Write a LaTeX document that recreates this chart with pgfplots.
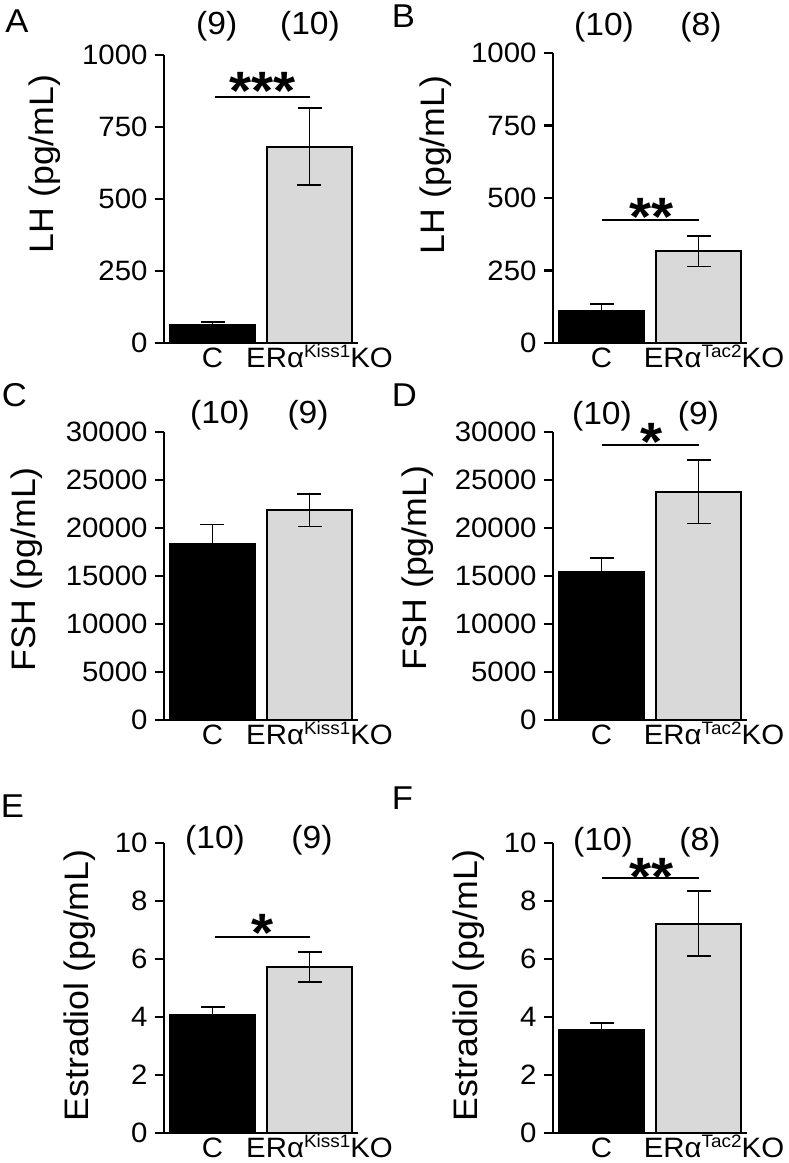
\documentclass[border=0pt]{standalone}
\usepackage{fontspec}
\setmainfont[FakeStretch=1.05]{Liberation Sans}
\usepackage{pgfplots}
\pgfplotsset{compat=1.18}
\definecolor{kogray}{RGB}{217,217,217}
\newcommand{\supx}[1]{\raisebox{5pt}{\fontsize{9}{9}\selectfont #1}}
\pgfplotsset{
 panel/.style={
  scale only axis, width=97pt, anchor=south west,
  axis lines*=left, xmin=0.5, xmax=2.5, ymin=0, enlargelimits=false, clip=false,
  xtick={1,2}, major x tick style={draw=none},
  tick align=outside, major tick length=4.7pt,
  axis line style={line width=1.15pt},
  major y tick style={line width=1.15pt, black},
  minor tick num=0,
  tick label style={font=\fontsize{14}{14}\selectfont},
  /pgf/number format/assume math mode=true,
  /pgf/number format/1000 sep={},
  /pgf/number format/fixed,
  scaled y ticks=false,
  xticklabel style={text height=11.5pt, inner sep=0pt, anchor=north, yshift=4.2pt},
  ylabel style={font=\fontsize{17}{17}\selectfont, anchor=center},
 },
 Cbar/.style={ybar, bar width=0.87, bar shift=0pt, fill=black, draw=black, line width=1pt,
   error bars/.cd, y dir=both, y explicit, error bar style={line width=0.85pt, black},
   error mark options={rotate=90, line width=0.85pt, mark size=6pt, black}},
 KObar/.style={ybar, bar width=0.87, bar shift=0pt, fill=kogray, draw=black, line width=1pt,
   error bars/.cd, y dir=both, y explicit, error bar style={line width=0.85pt, black},
   error mark options={rotate=90, line width=0.85pt, mark size=6pt, black}},
}
\tikzset{
 nlab/.style={font=\fontsize{16}{16}\selectfont, anchor=center, inner sep=0pt},
 sigstar/.style={font=\fontsize{27}{27}\selectfont\bfseries, anchor=base, inner sep=0pt, yshift=2.5pt},
 plet/.style={anchor=base west, inner sep=0pt, font=\fontsize{16.5}{16.5}\selectfont},
}
\begin{document}
\begin{tikzpicture}
\useasboundingbox (0,0) rectangle (394pt,581.5pt);
% ---------- A ----------
\begin{axis}[panel, at={(82pt,410pt)}, height=144pt, ymax=1000, ytick={0,250,500,750,1000},
  xticklabels={C,{\hspace*{10pt}ERα\supx{Kiss1}KO}},
  ylabel={LH (pg/mL)}, ylabel style={at={(axis description cs:-0.613,0.622)}}]
\addplot[Cbar] coordinates {(1,62) +- (0,11)};
\addplot[KObar] coordinates {(2,682) +- (0,133)};
\draw[line width=1pt] (axis cs:1.026,855) -- (axis cs:2.005,855);
\node[sigstar] at (axis cs:1.52,792) {***};
\node[nlab] at (axis cs:1.043,1101) {(9)};
\node[nlab] at (axis cs:2.005,1101) {(10)};
\end{axis}
% ---------- B ----------
\begin{axis}[panel, at={(276.5pt,410pt)}, height=145pt, ymax=1000, ytick={0,250,500,750,1000},
  xticklabels={C,{\hspace*{15.5pt}ERα\supx{Tac2}KO}},
  ylabel={LH (pg/mL)}, ylabel style={at={(axis description cs:-0.603,0.614)}}]
\addplot[Cbar] coordinates {(1,109) +- (0,25)};
\addplot[KObar] coordinates {(2,316) +- (0,52)};
\draw[line width=1pt] (axis cs:1.008,424) -- (axis cs:2.0,424);
\node[sigstar] at (axis cs:1.52,355) {**};
\node[nlab] at (axis cs:1.026,1088) {(10)};
\node[nlab] at (axis cs:2.026,1088) {(8)};
\end{axis}
% ---------- C ----------
\begin{axis}[panel, at={(82pt,221.5pt)}, height=144pt, ymax=30000, ytick={0,5000,10000,15000,20000,25000,30000},
  xticklabels={C,{\hspace*{10pt}ERα\supx{Kiss1}KO}},
  ylabel={FSH (pg/mL)}, ylabel style={at={(axis description cs:-0.706,0.523)}}]
\addplot[Cbar] coordinates {(1,18300) +- (0,2050)};
\addplot[KObar] coordinates {(2,21850) +- (0,1700)};
\node[nlab] at (axis cs:1.077,31770) {(10)};
\node[nlab] at (axis cs:1.985,31770) {(9)};
\end{axis}
% ---------- D ----------
\begin{axis}[panel, at={(276.5pt,221.5pt)}, height=144pt, ymax=30000, ytick={0,5000,10000,15000,20000,25000,30000},
  xticklabels={C,{\hspace*{15.5pt}ERα\supx{Tac2}KO}},
  ylabel={FSH (pg/mL)}, ylabel style={at={(axis description cs:-0.696,0.528)}}]
\addplot[Cbar] coordinates {(1,15430) +- (0,1460)};
\addplot[KObar] coordinates {(2,23760) +- (0,3300)};
\draw[line width=1pt] (axis cs:1.0,28646) -- (axis cs:2.0,28646);
\node[sigstar] at (axis cs:1.52,26562) {*};
\node[nlab] at (axis cs:1.005,31667) {(10)};
\node[nlab] at (axis cs:2.0,31667) {(9)};
\end{axis}
% ---------- E ----------
\begin{axis}[panel, at={(82pt,15pt)}, height=145pt, ymax=10, ytick={0,2,4,6,8,10},
  xticklabels={C,{\hspace*{10pt}ERα\supx{Kiss1}KO}},
  ylabel={Estradiol (pg/mL)}, ylabel style={at={(axis description cs:-0.433,0.509)}}]
\addplot[Cbar] coordinates {(1,4.08) +- (0,0.26)};
\addplot[KObar] coordinates {(2,5.72) +- (0,0.52)};
\draw[line width=1pt] (axis cs:1.026,6.75) -- (axis cs:2.005,6.75);
\node[sigstar] at (axis cs:1.52,6.10) {*};
\node[nlab] at (axis cs:1.026,10.10) {(10)};
\node[nlab] at (axis cs:2.026,10.10) {(9)};
\end{axis}
% ---------- F ----------
\begin{axis}[panel, at={(276.5pt,15pt)}, height=145pt, ymax=10, ytick={0,2,4,6,8,10},
  xticklabels={C,{\hspace*{15.5pt}ERα\supx{Tac2}KO}},
  ylabel={Estradiol (pg/mL)}, ylabel style={at={(axis description cs:-0.433,0.51)}}]
\addplot[Cbar] coordinates {(1,3.54) +- (0,0.26)};
\addplot[KObar] coordinates {(2,7.22) +- (0,1.12)};
\draw[line width=1pt] (axis cs:1.0,8.79) -- (axis cs:2.0,8.79);
\node[sigstar] at (axis cs:1.52,8.03) {**};
\node[nlab] at (axis cs:1.015,10.03) {(10)};
\node[nlab] at (axis cs:2.015,10.03) {(8)};
\end{axis}
% panel letters
\node[plet] at (2.5pt,565pt) {A};
\node[plet] at (195.7pt,567.5pt) {B};
\node[plet] at (0.75pt,378pt) {C};
\node[plet] at (195.7pt,378pt) {D};
\node[plet] at (0.25pt,172.5pt) {E};
\node[plet] at (195.7pt,176.5pt) {F};
\end{tikzpicture}
\end{document}
